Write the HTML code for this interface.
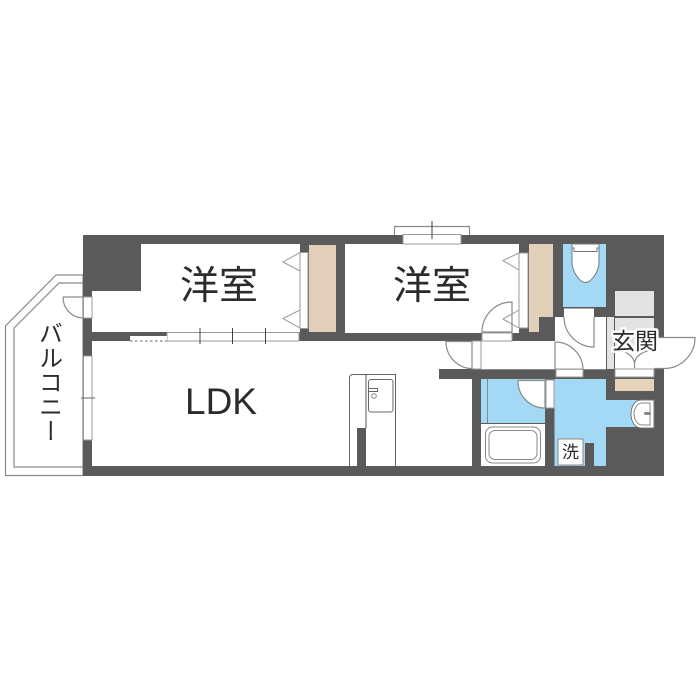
<!DOCTYPE html>
<html lang="ja"><head><meta charset="utf-8"><style>
html,body{margin:0;padding:0;background:#fff}
svg{display:block}
text{font-family:"Liberation Sans","Noto Sans CJK JP",sans-serif;fill:#2b2b2b}
.l{fill:none;stroke:#8a8a8a;stroke-width:1.2}
.d{fill:none;stroke:#666;stroke-width:1}
.w{fill:#fff;stroke:#999;stroke-width:1}
</style></head><body>
<svg width="700" height="700" viewBox="0 0 700 700" xmlns="http://www.w3.org/2000/svg">
<rect width="700" height="700" fill="#fff"/>
<!-- balcony -->
<polygon points="83,275 56,275 5.5,326 5.5,475.5 83,475.5" fill="#fff" stroke="#8a8a8a" stroke-width="1.2"/>
<polygon points="83,283 59,283 14,328 14,467 83,467" fill="#fff" stroke="#8a8a8a" stroke-width="1.2"/>
<!-- top window frame -->
<path class="l" d="M394.500,235V226.500H469.500V235"/>
<!-- structure -->
<rect x="83" y="235" width="581" height="241" fill="#5a5a5a"/>
<!-- rooms -->
<polygon points="141,244 300,244 300,332 92,332 92,291 141,291" fill="#fff"/>
<rect x="345" y="244" width="174" height="89" fill="#fff"/>
<rect x="92" y="341" width="380" height="125" fill="#fff"/>
<rect x="439" y="369" width="42" height="10" fill="#5a5a5a"/>
<polygon points="481,341 555,341 555,317 606,317 606,369 481,369" fill="#fff"/>
<!-- top window -->
<rect x="403" y="234.500" width="58" height="9.500" class="w"/>
<path d="M432,221V239" stroke="#444" stroke-width="1"/>
<!-- left door / window -->
<rect x="83.500" y="297" width="8.500" height="21" class="w"/>
<rect x="83.500" y="356" width="8.500" height="84" class="w"/>
<path d="M81,398H95" stroke="#666" stroke-width="1"/>
<path class="l" d="M63,297H83M63,297A20,21 0 0 0 83,318"/>
<!-- LDK top sliding -->
<rect x="167" y="332.500" width="132" height="8.500" class="w"/>
<rect x="130" y="336" width="37" height="5.500" fill="#fff"/>
<path d="M130,341H167" stroke="#666" stroke-width="1" stroke-dasharray="2.500,2.500"/>
<path d="M200,328V344M232.500,328V344M265.500,328V344" stroke="#444" stroke-width="1"/>
<!-- closet 1 -->
<rect x="309" y="245" width="27" height="87" fill="#e2cfb9"/>
<rect x="300" y="252.500" width="8" height="76" class="w"/>
<polygon points="300,252.500 283,262 300,271" class="w"/>
<polygon points="300,310 283,318.500 300,328" class="w"/>
<!-- closet 2 -->
<polygon points="529,244 553,244 553,317 539,317 539,332 529,332" fill="#e2cfb9"/>
<rect x="519" y="253" width="9" height="75" class="w"/>
<polygon points="519,253 503,260.500 519,270" class="w"/>
<polygon points="519,310 503,319 519,328" class="w"/>
<rect x="512" y="328" width="7" height="5" fill="#fff"/>
<!-- bedroom 2 door -->
<rect x="482" y="333" width="30" height="8" class="w"/>
<path class="l" d="M512,302V332H482A30,30 0 0 1 512,302Z"/>
<!-- toilet -->
<rect x="563" y="244" width="43" height="63" fill="#a3d9f5"/>
<path d="M572,244V262C572,272 580,282.500 585.500,282.500C591,282.500 599,272 599,262V244Z" fill="#fff" stroke="#777" stroke-width="1"/>
<path d="M572,248H574V251.500H597V248H599" fill="none" stroke="#777" stroke-width="1"/>
<rect x="564" y="308.500" width="30" height="8.500" fill="#fff"/>
<path class="l" d="M564,317A30,30 0 0 0 594,347V317"/>
<!-- corridor doors -->
<rect x="472" y="341" width="9" height="28" class="w"/>
<path fill="#fff" stroke="#8a8a8a" stroke-width="1.200" d="M446,341.500H472V368.500A26,27 0 0 1 446,341.500Z"/>
<rect x="556" y="369" width="27" height="8" class="w"/>
<path class="l" d="M555,342A28,28 0 0 1 583,370"/>
<path class="l" d="M555,342V369"/>
<rect x="481" y="369" width="125" height="0.800" fill="#999"/>
<!-- entrance strip -->
<rect x="607" y="317" width="7" height="52" fill="#e3e3e3"/>
<rect x="615" y="291" width="39" height="25" fill="#e3e3e3"/>
<rect x="615" y="318" width="39" height="29" fill="#e3e3e3"/>
<rect x="615" y="347" width="39" height="22" fill="#fff"/>
<path class="l" d="M615,350A20,14 0 0 1 634.500,364M654,350A20,14 0 0 0 634.500,364M634.500,360V368"/>
<rect x="615" y="369" width="39" height="8" class="w"/>
<rect x="615" y="379" width="39" height="12" fill="#e6d3bc"/>
<!-- entry door -->
<rect x="654" y="337" width="10" height="32" fill="#fff"/>
<path class="l" d="M654,337.500H695A31,31 0 0 1 664,368.500H654"/>
<!-- bath -->
<rect x="481" y="379" width="64" height="44" fill="#a3d9f5"/>
<path d="M487.500,379V423" stroke="#8a8a8a" stroke-width="1"/>
<path fill="#fff" stroke="#8a8a8a" stroke-width="1.200" d="M518,380.500H545V408A27,27 0 0 1 518,380.500Z"/>
<rect x="546" y="380" width="8" height="28" class="w"/>
<rect x="481" y="424" width="64" height="42" fill="#fff"/>
<rect x="485.500" y="427" width="55" height="36" rx="7" fill="none" stroke="#888" stroke-width="1"/>
<rect x="489" y="430.500" width="48" height="29" rx="6" fill="none" stroke="#888" stroke-width="1"/>
<!-- wash room -->
<polygon points="554.500,379 606,379 606,400 654,400 654,427 606,427 606,443 585,443 585,466 554.500,466" fill="#a3d9f5"/>
<rect x="594" y="443" width="12" height="23" fill="#a3d9f5"/>
<rect x="558" y="439" width="25" height="26" fill="#fff" stroke="#888" stroke-width="1"/>
<path d="M654,400H641C634,400 631,408 631,414C631,420 634,428 641,428H654Z" fill="#fff" stroke="#777" stroke-width="1"/>
<path d="M650,403H642C637,403 634,409 634,414C634,419 637,425 642,425H650Z" fill="none" stroke="#888" stroke-width="1"/>
<rect x="644" y="412" width="7" height="3" rx="1.500" fill="#888"/>
<!-- kitchen -->
<path class="d" d="M349.500,466V378Q349.500,374.500 353,374.500H395.500V466"/>
<path d="M366,374.500V428" stroke="#555" stroke-width="1"/>
<rect x="357" y="428" width="9" height="38" fill="#5a5a5a"/>
<rect x="368.500" y="379.500" width="24.500" height="32.500" rx="2.500" fill="#fff" stroke="#666" stroke-width="1"/>
<rect x="368.500" y="388.500" width="9" height="3" fill="#fff" stroke="#666" stroke-width="1"/>
<circle cx="374" cy="396" r="2.300" fill="none" stroke="#888" stroke-width="1"/>
<!-- labels -->
<text x="219" y="299" font-size="39" text-anchor="middle">洋室</text>
<text x="432" y="299" font-size="39" text-anchor="middle">洋室</text>
<text x="221" y="414" font-size="37" text-anchor="middle">LDK</text>
<text x="48" y="321" font-size="24" style="writing-mode:vertical-rl;glyph-orientation-vertical:0" text-anchor="start" letter-spacing="0.500">バルコニー</text>
<text x="635" y="349" font-size="23" text-anchor="middle" style="paint-order:stroke;stroke:#fff;stroke-width:5px;stroke-linejoin:round">玄関</text>
<text x="570.500" y="458" font-size="17" text-anchor="middle">洗</text>
</svg>
</body></html>
